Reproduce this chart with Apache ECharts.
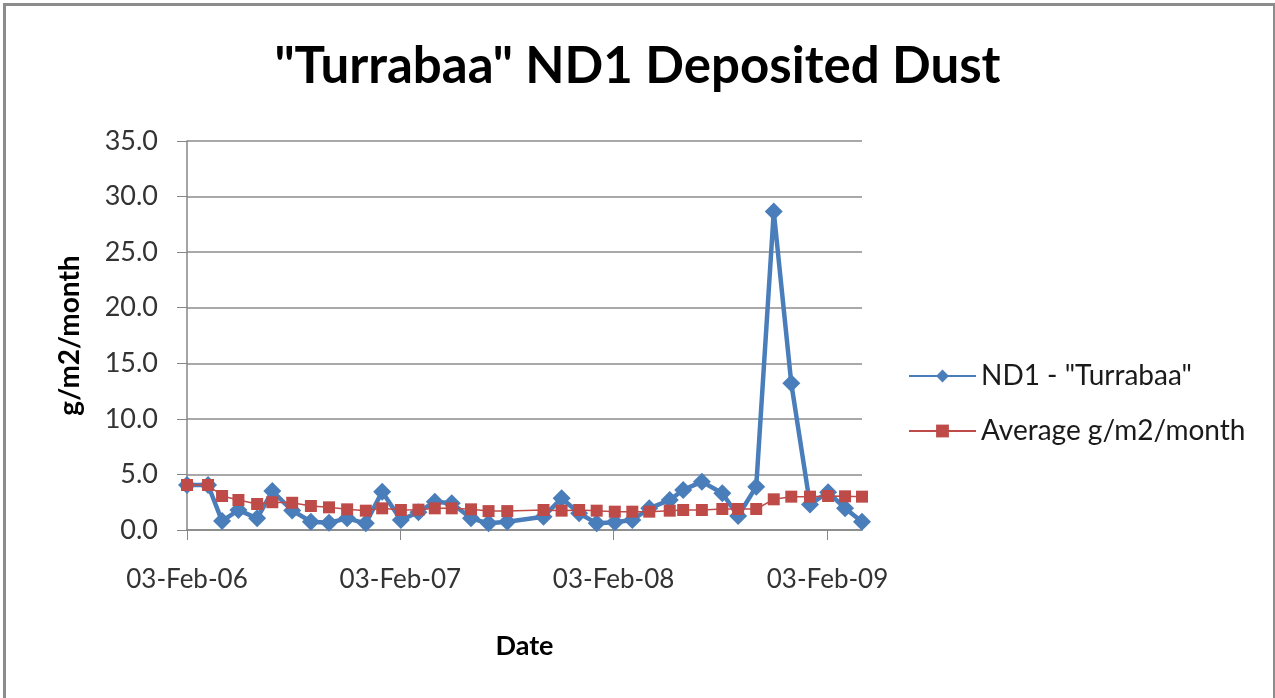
<!DOCTYPE html>
<html>
<head>
<meta charset="utf-8">
<script src="https://cdn.jsdelivr.net/npm/echarts@6/dist/echarts.min.js"></script>
<style>
html,body{margin:0;padding:0;background:#fff;}
#chart{width:1275px;height:698px;}
</style>
</head>
<body>
<div id="chart"></div>
<script>
// ---- Data ----
var dates = ['2006-02-03','2006-03-11','2006-04-04','2006-05-02','2006-06-03','2006-06-29','2006-08-02','2006-09-03','2006-10-04','2006-11-04','2006-12-06','2007-01-03','2007-02-04','2007-03-06','2007-04-03','2007-05-02','2007-06-04','2007-07-04','2007-08-05','2007-10-06','2007-11-06','2007-12-06','2008-01-05','2008-02-05','2008-03-06','2008-04-04','2008-05-09','2008-06-01','2008-07-03','2008-08-07','2008-09-03','2008-10-04','2008-11-03','2008-12-03','2009-01-04','2009-02-04','2009-03-05','2009-04-03'];
var nd1Values = [4.05,4.05,0.8,1.8,1.05,3.5,1.75,0.75,0.65,1.05,0.6,3.45,0.9,1.6,2.55,2.4,1.05,0.6,0.75,1.2,2.85,1.5,0.6,0.7,0.9,1.95,2.7,3.6,4.35,3.3,1.26,3.9,28.65,13.2,2.3,3.4,1.95,0.75];
var avgValues = [4.05,4.05,3.06,2.7,2.34,2.5,2.45,2.16,2.04,1.86,1.74,1.95,1.8,1.83,1.95,1.95,1.86,1.7,1.7,1.8,1.74,1.8,1.74,1.65,1.65,1.65,1.74,1.8,1.8,1.89,1.89,1.89,2.76,3.0,3.0,3.06,3.03,3.0];
var xTickDates = ['2006-02-03','2007-02-03','2008-02-03','2009-02-03'];
var xTickLabels = ['03-Feb-06','03-Feb-07','03-Feb-08','03-Feb-09'];
var seriesNames = ['ND1 - "Turrabaa"','Average g/m2/month'];
var titleText = '"Turrabaa" ND1 Deposited Dust';

function ts(d){ var p=d.split('-'); return Date.UTC(+p[0], +p[1]-1, +p[2]); }
var tickTs = xTickDates.map(ts);
function pairs(vals){ return dates.map(function(d,i){ return [ts(d), vals[i]]; }); }

var FONT = 'Lato';
var chart = echarts.init(document.getElementById('chart'), null, {renderer:'canvas'});
chart.setOption({
  animation:false,
  backgroundColor:'#fff',
  textStyle:{fontFamily:FONT},
  graphic:[{
    type:'rect', left:2, top:2, z:-1,
    shape:{x:0,y:0,width:1270,height:700},
    style:{fill:'none', stroke:'#8c8c8c', lineWidth:3}
  }],
  title:{
    text:titleText, left:'center', top:36,
    textStyle:{fontFamily:FONT, fontWeight:'bold', fontSize:51, color:'#000'}
  },
  legend:{
    orient:'vertical', left:903, top:357, itemGap:27,
    itemWidth:67, itemHeight:16,
    textStyle:{fontFamily:FONT, fontSize:28, color:'#1a1a1a'},
    data:seriesNames
  },
  grid:{left:187, top:141, right:413, bottom:168, containLabel:false},
  xAxis:{
    type:'value',
    min:ts(dates[0]), max:ts(dates[dates.length-1]),
    name:'Date', nameLocation:'middle', nameGap:103,
    nameTextStyle:{fontFamily:FONT, fontWeight:'bold', fontSize:27, color:'#000'},
    axisLine:{onZero:false, lineStyle:{color:'#868686', width:1.5}},
    axisTick:{show:true, inside:false, length:10, customValues:tickTs, lineStyle:{color:'#868686'}},
    axisLabel:{customValues:tickTs, margin:37, fontSize:26, color:'#333',
      formatter:function(v){ var i=tickTs.indexOf(v); return i>=0?xTickLabels[i]:''; }},
    splitLine:{show:false}
  },
  yAxis:{
    type:'value', min:0, max:35, interval:5,
    name:'g/m2/month', nameLocation:'middle', nameGap:103,
    nameTextStyle:{fontFamily:FONT, fontWeight:'bold', fontSize:28, color:'#000'},
    axisLine:{show:true, lineStyle:{color:'#868686', width:1.5}},
    axisTick:{show:true, inside:false, length:10, lineStyle:{color:'#868686'}},
    axisLabel:{margin:29, fontSize:27, color:'#333', formatter:function(v){return v.toFixed(1);}},
    splitLine:{show:true, lineStyle:{color:'#8c8c8c', width:1.5}}
  },
  series:[
    {
      name:seriesNames[0], type:'line', data:pairs(nd1Values),
      symbol:'diamond', symbolSize:18, z:3,
      lineStyle:{color:'#4A7EBB', width:4.5},
      itemStyle:{color:'#4A7EBB'}
    },
    {
      name:seriesNames[1], type:'line', data:pairs(avgValues),
      symbol:'rect', symbolSize:12, z:4,
      lineStyle:{color:'#BE4B48', width:1.5},
      itemStyle:{color:'#BE4B48'}
    }
  ]
});
</script>
</body>
</html>
